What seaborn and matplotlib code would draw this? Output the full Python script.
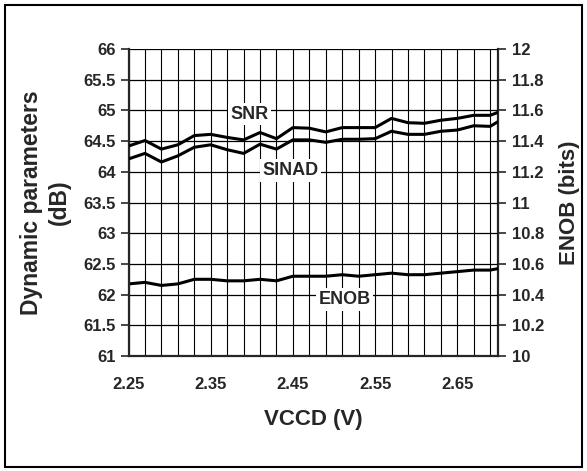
import numpy as np
import pandas as pd
import seaborn as sns
import matplotlib.pyplot as plt
from matplotlib.patches import Rectangle

# values
vccd = [2.25, 2.27, 2.29, 2.31, 2.33, 2.35, 2.37, 2.39, 2.41, 2.43, 2.45, 2.47,
        2.49, 2.51, 2.53, 2.55, 2.57, 2.59, 2.61, 2.63, 2.65, 2.67, 2.69, 2.70]
snr = [64.42, 64.51, 64.37, 64.44, 64.59, 64.61, 64.56, 64.52, 64.64, 64.54, 64.72, 64.71,
       64.65, 64.72, 64.72, 64.72, 64.87, 64.80, 64.79, 64.84, 64.87, 64.92, 64.92, 64.97]
sinad = [64.21, 64.30, 64.16, 64.26, 64.40, 64.44, 64.36, 64.30, 64.45, 64.37, 64.52, 64.52,
         64.48, 64.53, 64.53, 64.54, 64.66, 64.61, 64.61, 64.66, 64.68, 64.75, 64.74, 64.82]
enob = [10.47, 10.48, 10.46, 10.47, 10.50, 10.50, 10.49, 10.49, 10.50, 10.49, 10.52, 10.52,
        10.52, 10.53, 10.52, 10.53, 10.54, 10.53, 10.53, 10.54, 10.55, 10.56, 10.56, 10.57]

xticks = [2.25, 2.35, 2.45, 2.55, 2.65]
xgrid = [2.25 + 0.02 * k for k in range(23)] + [2.70]
db_ticks = [61, 61.5, 62, 62.5, 63, 63.5, 64, 64.5, 65, 65.5, 66]
bit_ticks = [10, 10.2, 10.4, 10.6, 10.8, 11, 11.2, 11.4, 11.6, 11.8, 12]

df = pd.DataFrame({"vccd": vccd, "snr": snr, "sinad": sinad, "enob": enob})

sns.set_style("white")
plt.rcParams['font.family'] = ['Liberation Sans', 'DejaVu Sans']
plt.rcParams['font.weight'] = 'bold'

fig = plt.figure(figsize=(5.87, 4.71), dpi=100)
ax = fig.add_axes([0.219, 0.244, 0.630, 0.652])
ax2 = ax.twinx()

# grid
for gx in xgrid:
    ax.axvline(gx, color='black', lw=0.8, zorder=0)
for gy in db_ticks:
    ax.axhline(gy, color='black', lw=0.9, zorder=0)

sns.lineplot(data=df, x="vccd", y="snr", ax=ax, color='black', lw=2.2, zorder=3)
sns.lineplot(data=df, x="vccd", y="sinad", ax=ax, color='black', lw=2.2, zorder=3)
sns.lineplot(data=df, x="vccd", y="enob", ax=ax2, color='black', lw=2.2, zorder=3)

ax.set_xlim(2.25, 2.70)
ax.set_ylim(61, 66)
ax2.set_ylim(10, 12)
ax.set_xticks(xticks)
ax.set_xticklabels([f"{t:.2f}" for t in xticks])
ax.set_yticks(db_ticks)
ax.set_yticklabels([f"{t:g}" for t in db_ticks])
ax2.set_yticks(bit_ticks)
ax2.set_yticklabels([f"{t:g}" for t in bit_ticks])

for a in (ax, ax2):
    for s in a.spines.values():
        s.set_visible(False)
ax.spines['left'].set_visible(True)
ax.spines['left'].set_linewidth(1.6)
ax.spines['bottom'].set_visible(True)
ax.spines['bottom'].set_linewidth(1.6)
ax2.spines['right'].set_visible(True)
ax2.spines['right'].set_linewidth(1.6)

ax.tick_params(axis='both', direction='out', length=6, width=1.2, labelsize=12, pad=3)
ax.tick_params(axis='x', pad=9)
ax2.tick_params(axis='y', direction='out', length=6, width=1.2, labelsize=12, pad=4)
for lab in ax.get_xticklabels() + ax.get_yticklabels() + ax2.get_yticklabels():
    lab.set_fontweight('bold')

ax.set_xlabel("VCCD (V)", fontsize=16, fontweight='bold', labelpad=12)
ax.set_ylabel("Dynamic parameters\n(dB)", fontsize=16.5, fontweight='bold',
              linespacing=1.3)
ax.yaxis.set_label_coords(-0.155, 0.5)
ax2.set_ylabel("ENOB (bits)", fontsize=16, fontweight='bold')
ax2.yaxis.set_label_coords(1.163, 0.5)

box = dict(facecolor='white', edgecolor='none', pad=2)
ax.text(2.397, 64.94, "SNR", ha='center', va='center', fontsize=13,
        fontweight='bold', bbox=box, zorder=4)
ax.text(2.447, 64.02, "SINAD", ha='center', va='center', fontsize=13,
        fontweight='bold', bbox=box, zorder=4)
ax.text(2.513, 61.92, "ENOB", ha='center', va='center', fontsize=13,
        fontweight='bold', bbox=box, zorder=4)

ax.set_zorder(ax2.get_zorder() + 1)
ax.patch.set_visible(False)

fig.patches.append(Rectangle((0.009, 0.008), 0.983, 0.982, transform=fig.transFigure,
                             fill=False, edgecolor='black', lw=1.5))

fig.savefig("out.png", dpi=100)
